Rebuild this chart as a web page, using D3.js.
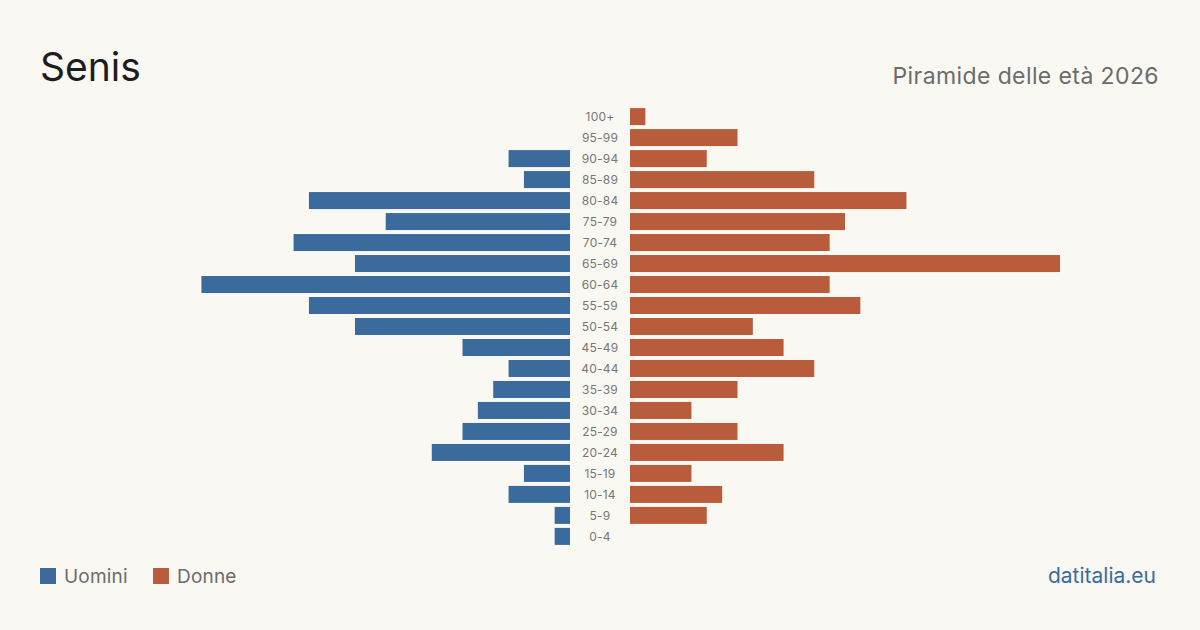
<!DOCTYPE html>
<html lang="it">
<head>
    <meta charset="UTF-8">
    <script src="https://cdn.jsdelivr.net/npm/d3@7/dist/d3.min.js"></script>
    <title>Senis - Piramide delle età</title>
    <style>
        * { box-sizing: border-box; margin: 0; padding: 0; }
        body, html { width: 1200px; height: 630px; background: #faf8f3; overflow: hidden; }
        svg { display: block; font-family: Inter, "Noto Sans", sans-serif; }
    </style>
</head>
<body>
    <svg id="chart" width="1200" height="630"></svg>
    <script type="text/javascript">
      var ageGroups = ['100+', '95-99', '90-94', '85-89', '80-84', '75-79', '70-74', '65-69', '60-64', '55-59',
        '50-54', '45-49', '40-44', '35-39', '30-34', '25-29', '20-24', '15-19', '10-14', '5-9', '0-4'];
      var men = [0, 0, 4, 3, 17, 12, 18, 14, 24, 17, 14, 7, 4, 5, 6, 7, 9, 3, 4, 1, 1];
      var women = [1, 7, 5, 12, 18, 14, 13, 28, 13, 15, 8, 10, 12, 7, 4, 7, 10, 4, 6, 5, 0];

      var blue = '#3b6b9c';
      var orange = '#b95c3c';

      var svg = d3.select('#chart');

      var y = d3.scaleBand()
        .domain(ageGroups)
        .range([106, 547])
        .paddingInner(0.19)
        .paddingOuter(0.1);

      var maxVal = d3.max(men.concat(women));
      var xRight = d3.scaleLinear().domain([0, maxVal]).range([630, 1060]);
      var xLeft = d3.scaleLinear().domain([0, maxVal]).range([570, 140]);

      svg.append('g').selectAll('rect')
        .data(ageGroups)
        .enter().append('rect')
        .attr('x', function (d, i) { return xLeft(men[i]); })
        .attr('y', function (d) { return y(d); })
        .attr('width', function (d, i) { return xLeft(0) - xLeft(men[i]); })
        .attr('height', y.bandwidth())
        .attr('fill', blue);

      svg.append('g').selectAll('rect')
        .data(ageGroups)
        .enter().append('rect')
        .attr('x', xRight(0))
        .attr('y', function (d) { return y(d); })
        .attr('width', function (d, i) { return xRight(women[i]) - xRight(0); })
        .attr('height', y.bandwidth())
        .attr('fill', orange);

      svg.append('g').selectAll('text')
        .data(ageGroups)
        .enter().append('text')
        .attr('x', 600)
        .attr('y', function (d) { return y(d) + y.bandwidth() / 2; })
        .attr('dy', '0.35em')
        .attr('text-anchor', 'middle')
        .attr('font-size', 12)
        .attr('letter-spacing', 0.2)
        .attr('fill', '#777')
        .text(function (d) { return d; });

      svg.append('text')
        .attr('x', 40).attr('y', 81)
        .attr('font-size', 39)
        .attr('fill', '#1d1d1d')
        .text('Senis');

      svg.append('text')
        .attr('x', 1159).attr('y', 84)
        .attr('text-anchor', 'end')
        .attr('font-size', 23)
        .attr('letter-spacing', 0.4)
        .attr('fill', '#6b6b6b')
        .text('Piramide delle età 2026');

      var legend = [{ label: 'Uomini', color: blue, x: 40 }, { label: 'Donne', color: orange, x: 153 }];
      var lg = svg.append('g').selectAll('g')
        .data(legend)
        .enter().append('g')
        .attr('transform', function (d) { return 'translate(' + d.x + ',568)'; });
      lg.append('rect').attr('width', 16).attr('height', 16).attr('fill', function (d) { return d.color; });
      lg.append('text')
        .attr('x', 24).attr('y', 8).attr('dy', '0.36em')
        .attr('font-size', 19)
        .attr('letter-spacing', 0.2)
        .attr('fill', '#6b6b6b')
        .text(function (d) { return d.label; });

      svg.append('text')
        .attr('x', 1156).attr('y', 583)
        .attr('text-anchor', 'end')
        .attr('font-size', 21)
        .attr('fill', blue)
        .text('datitalia.eu');
    </script>
</body>
</html>
